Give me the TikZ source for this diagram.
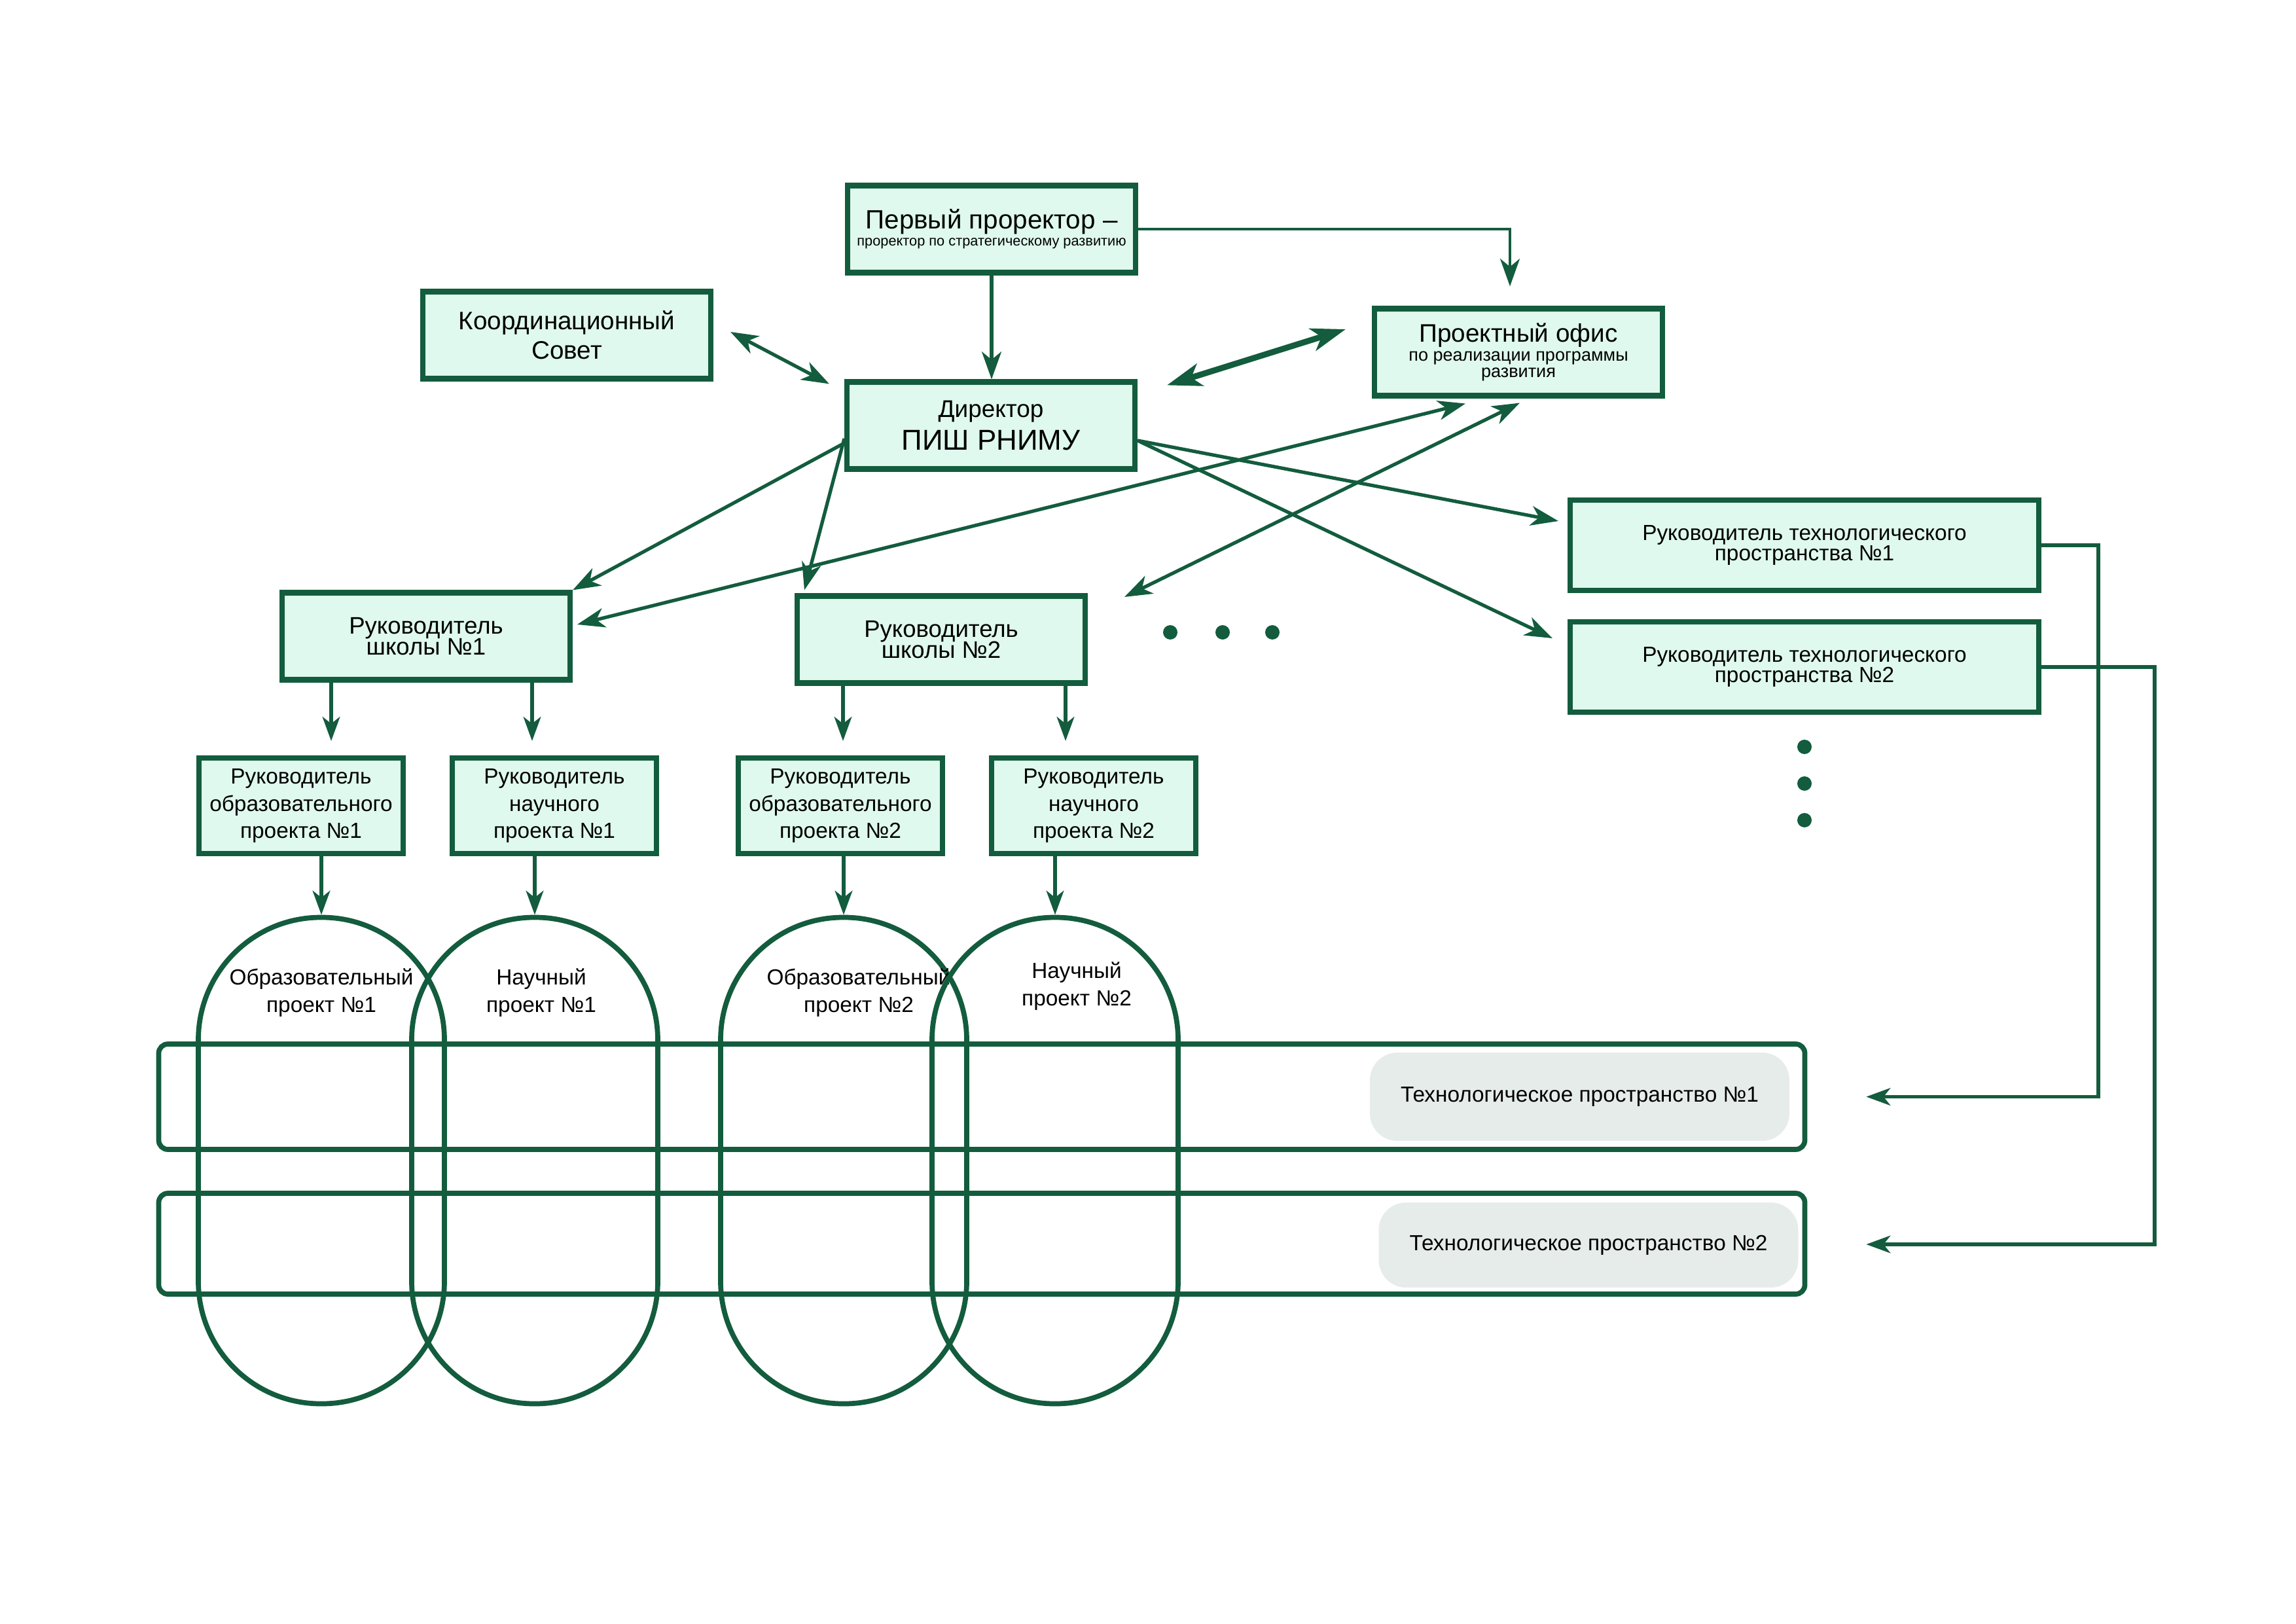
\documentclass[tikz,border=0pt]{standalone}
\usepackage{fontspec}
\setmainfont{Liberation Sans}
\usepackage{tikz}
\usetikzlibrary{calc}
\usetikzlibrary{positioning}
\usetikzlibrary{arrows.meta}
\definecolor{pish}{HTML}{135C3E}
\definecolor{pishfill}{HTML}{DFF9EE}
\definecolor{tsgrey}{HTML}{E6ECEA}
\newcommand{\tightlines}{\lineskiplimit=-20pt\relax}

\begin{document}
\begin{tikzpicture}[
     >={Stealth[length=12pt,width=8.5pt,inset=3.5pt]},
     mybox/.style={rectangle, draw=pish, line width=2.3pt, fill=pishfill, align=center, inner sep=1pt, minimum width=4.40cm, minimum height=1.33cm, font=\fontsize{10.4}{9}\selectfont\tightlines},
     mytechbox/.style={mybox, minimum width=7.16cm, minimum height=1.38cm, font=\fontsize{9.5}{8.7}\selectfont\tightlines},
     myprojbox/.style={mybox, minimum width=3.12cm, minimum height=1.46cm, font=\fontsize{9.5}{11.8}\selectfont},
     myoval/.style={rectangle, rounded corners=1.87cm, draw=pish, line width=2.2pt, minimum width=3.76cm, minimum height=7.43cm},  % stadium: corners = half width
     myband/.style={rectangle, rounded corners=0.14cm, draw=pish, line width=2.2pt, minimum width=25.15cm},
     mylabel/.style={rectangle, rounded corners=0.42cm, fill=tsgrey, minimum width=6.41cm, font=\fontsize{9.5}{11}\selectfont},
     myarrow/.style={draw=pish, line width=1.5pt, ->},
     mysmallarrow/.style={draw=pish, line width=1.5pt, -{Stealth[length=10.5pt,width=7.6pt,inset=3pt]}},
     mydot/.style={circle, fill=pish, inner sep=0pt, minimum size=0.22cm}
 ]
 \useasboundingbox (0,0) rectangle (35.08,-24.80);

 % top of the chart
 \node[mybox, font=\fontsize{6.2}{7.4}\selectfont\tightlines] (first) at (15.15,-3.50) {{\fontsize{11.5}{12}\selectfont Первый проректор –}\\проректор по стратегическому развитию};
 \node[mybox, font=\fontsize{11}{12.8}\selectfont] (coord) at (8.66,-5.12) {Координационный\\Совет};
 \node[mybox, font=\fontsize{12.5}{14.2}\selectfont\tightlines] (dir) at (15.14,-6.50) {{\fontsize{10.5}{12}\selectfont Директор}\\ПИШ РНИМУ};
 \node[mybox, font=\fontsize{7.7}{7.1}\selectfont\tightlines] (office) at (23.20,-5.38) {{\fontsize{11}{12}\selectfont Проектный офис}\\[1.2pt]по реализации программы\\развития};

 \node[mybox] (sch1) at (6.51,-9.72) {Руководитель\\школы №1};
 \node[mybox] (sch2) at (14.38,-9.77) {Руководитель\\школы №2};
 \node[mytechbox] (tl1) at (27.57,-8.33) {Руководитель технологического\\пространства №1};
 \node[mytechbox, below=0.40cm of tl1] (tl2) {Руководитель технологического\\пространства №2};

 \foreach \x [count=\i] in {17.88,18.68,19.44}
     \node[mydot] (hdot\i) at (\x,-9.66) {};
 \foreach \y [count=\i] in {11.41,11.97,12.53}
     \node[mydot] (vdot\i) at (27.57,-\y) {};

 % project leaders
 \def\projleads{образовательного/1/4.60, научного/1/8.47, образовательного/2/12.84, научного/2/16.71}
 \foreach \kind/\num/\x [count=\i] in \projleads {
     \node[myprojbox] (lead\i) at (\x,-12.31) {Руководитель\\\kind\\проекта №\num};
 }

 % technological spaces
 \node[myband, minimum height=1.61cm] (band1) at (15.00,-16.755) {};
 \node[myband, minimum height=1.54cm] (band2) at (15.00,-19.00) {};
 \node[mylabel, minimum height=1.35cm] (tsname1) at (24.135,-16.755) {Технологическое пространство №1};
 \node[mylabel, minimum height=1.30cm] (tsname2) at (24.27,-19.02) {Технологическое пространство №2};

 % projects
 \def\projects{Образовательный/1/4.91/0/1.19, Научный/1/8.17/0.10/1.19, Образовательный/2/12.89/0.23/1.19, Научный/2/16.12/0.33/1.09}
 \foreach \kind/\num/\x/\dx/\dy [count=\i] in \projects {
     \node[myoval] (proj\i) at (\x,-17.73) {};
     \node[align=center, font=\fontsize{9.5}{12}\selectfont] (projtext\i) at ($(proj\i.north)+(\dx,-\dy)$) {\kind\\проект №\num};
 }

 \coordinate (more) at (17.18,-9.12);
 \coordinate (tsend1) at ($(band1.east)+(0.90,0)$);
 \coordinate (tsend2) at ($(band2.east)+(0.90,-0.01)$);

 \draw[myarrow] (first.south) -- (first.south |- dir.north);
 \draw[myarrow, line width=1.3pt] (first.east) -| ($(office.north)+(-0.13,0.30)$);
 \draw[myarrow, <->] ($(coord.east)+(0.26,0.05)$) -- ($(dir.north west)+(-0.23,-0.07)$);
 \draw[myarrow, <->, line width=2.6pt, >={Stealth[length=15pt,width=10pt,inset=4pt]}] ($(dir.north east)+(0.45,-0.09)$) -- ($(office.west)+(-0.40,0.35)$);

 \draw[myarrow] ($(dir.west)+(0,-0.27)$) -- (sch1.north east);
 \draw[myarrow] ($(dir.west)+(0,-0.20)$) -- ($(sch2.north west)+(0.15,0.05)$);
 \draw[myarrow] ($(dir.east)+(0,-0.23)$) -- ($(tl1.west)+(-0.14,0.37)$);
 \draw[myarrow] ($(dir.east)+(0,-0.23)$) -- ($(tl2.west)+(-0.23,0.44)$);
 \draw[myarrow, <->] ($(office.south)+(-0.81,-0.08)$) -- ($(sch1.east)+(0.07,0.18)$);
 \draw[myarrow, <->] ($(office.south)+(0.02,-0.07)$) -- (more);

 \draw[mysmallarrow] (tl1.east) -- ++(0.87,0) |- (tsend1);
 \draw[mysmallarrow] (tl2.east) -- ++(1.73,0) |- (tsend2);

 \foreach \s/\l/\dx in {sch1/lead1/-1.45, sch1/lead2/1.62, sch2/lead3/-1.50, sch2/lead4/1.90}
     \draw[mysmallarrow, shorten >=0.22cm] ($(\s.south)+(\dx,0)$) coordinate (from\l) -- (from\l |- \l.north);
 \foreach \i in {1,...,4}
     \draw[mysmallarrow] (proj\i.north |- lead\i.south) -- (proj\i.north);
\end{tikzpicture}
\end{document}
